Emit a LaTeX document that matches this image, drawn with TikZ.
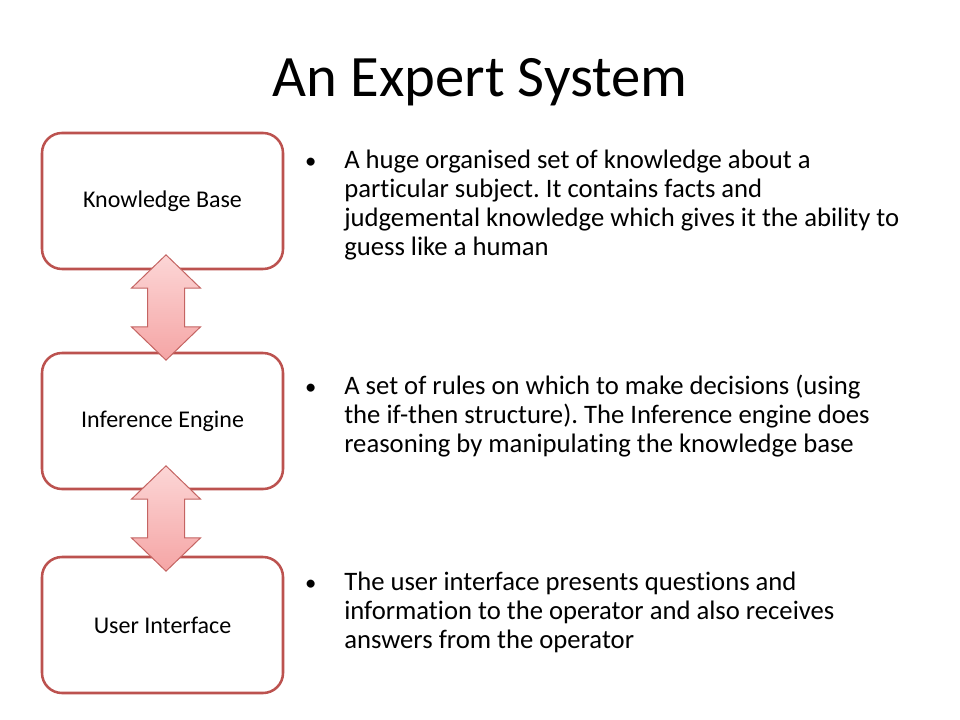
\documentclass[tikz,border=0pt]{standalone}
\usepackage{fontspec}
\setmainfont{Carlito}[Ligatures=NoCommon]
\frenchspacing
\usetikzlibrary{shapes,shapes.arrows,positioning,calc}
\definecolor{boxred}{RGB}{188,82,79}
\definecolor{linkline}{RGB}{196,100,98}
\definecolor{linklight}{RGB}{252,214,214}
\definecolor{linkdark}{RGB}{245,165,165}
\tikzset{
    part/.style={
        rectangle,
        draw=boxred,
        line width=1.9pt,
        rounded corners=15pt,
        fill=white,
        minimum width=180.75pt,
        minimum height=102pt,
        font=\fontsize{18}{21.75}\selectfont,
    },
    link/.style={
        double arrow,
        draw=linkline,
        line width=0.75pt,
        top color=linklight,
        bottom color=linkdark,
        rotate=90,
        inner sep=13.5pt,
        minimum height=79pt,
        minimum width=51pt,
        double arrow head extend=12pt,
        double arrow tip angle=92,
    },
    heading/.style={
        anchor=base,
        inner sep=0pt,
        font=\fontsize{44}{48}\selectfont,
    },
    desc/.style={
        anchor=base west,
        inner sep=0pt,
        font=\fontsize{20}{21.75}\selectfont,
    },
    dot/.style={
        inner sep=0pt,
        font=\fontsize{17}{21.75}\selectfont,
    },
}

\begin{document}
\begin{tikzpicture}[x=0.75pt,y=-0.75pt]
    \fill[white] (0,0) rectangle (960,720);
    \useasboundingbox (0,0) rectangle (960,720);

    \node [heading] (title) at (480,97) {An Expert System};

    % the three parts
    \node [part] (kb) at (162.5,201) {Knowledge Base};
    \node [part] (ie) at (162.5,421) {Inference Engine};
    \node [part] (ui) at (162.5,625) {User Interface};

    \node [link] (kbie) at ($(kb.south)!0.5!(ie.north)+(3.5,-3.5)$) {};
    \node [link] (ieui) at ($(ie.south)!0.5!(ui.north)+(3.5,-4.5)$) {};

    % descriptions
    \node [desc] (kbtext) at (344,169) {\begin{tabular}[t]{@{}l@{}}
        A huge organised set of knowledge about a\\
        particular subject. It contains facts and\\
        judgemental knowledge which gives it the ability to\\
        guess like a human\end{tabular}};
    \node [desc] (ietext) at (344,394) {\begin{tabular}[t]{@{}l@{}}
        A set of rules on which to make decisions (using\\
        the if-then structure). The Inference engine does\\
        reasoning by manipulating the knowledge base\end{tabular}};
    \node [desc] (uitext) at (344,590) {\begin{tabular}[t]{@{}l@{}}
        The user interface presents questions and\\
        information to the operator and also receives\\
        answers from the operator\end{tabular}};

    \node [dot,base left=20.5pt of kbtext.base west] (kbdot) {\textbullet};
    \node [dot,base left=20.5pt of ietext.base west] (iedot) {\textbullet};
    \node [dot,base left=20.5pt of uitext.base west] (uidot) {\textbullet};
\end{tikzpicture}
\end{document}
